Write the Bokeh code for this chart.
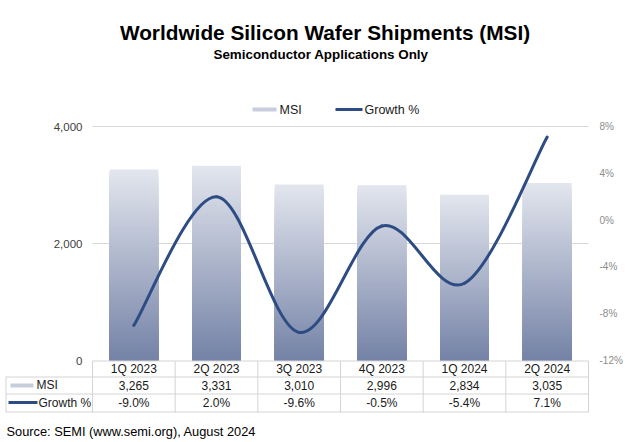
from bokeh.plotting import figure
from bokeh.models import (Range1d, LinearAxis, FixedTicker, NumeralTickFormatter,
                          PrintfTickFormatter, ColumnDataSource)
from bokeh.core.properties import value
from bokeh.embed import file_html
from bokeh.resources import INLINE

# ---------------- data ----------------
quarters = ["1Q 2023", "2Q 2023", "3Q 2023", "4Q 2023", "1Q 2024", "2Q 2024"]
msi = [3265, 3331, 3010, 2996, 2834, 3035]
growth = [-9.0, 2.0, -9.6, -0.5, -5.4, 7.1]
msi_ticks = [0, 2000, 4000]
growth_ticks = [-12, -8, -4, 0, 4, 8]
title_text = "Worldwide Silicon Wafer Shipments (MSI)"
subtitle_text = "Semiconductor Applications Only"
source_text = "Source: SEMI (www.semi.org), August 2024"
series_names = ["MSI", "Growth %"]

# ---------------- styling / geometry (page pixels) ----------------
FONT = "Liberation Sans"
LINE_COLOR = "#2E4C84"
BAR_TOP = (0xE3, 0xE6, 0xEE)
BAR_BOT = (0x74, 0x82, 0xA6)
BORDER = "#D4D4D4"
GRID = "#D9D9D9"
TXT = "#1A1A1A"

W, H = 640, 442
PAGE_L, PAGE_T = 0, 0
FRAME_L, FRAME_R = 92, 588
Y_MAX_PX, Y_ZERO_PX = 126, 360
n = len(quarters)
CAT_W = (FRAME_R - FRAME_L) / n


def xd(px):
    return (px - FRAME_L) / CAT_W


def yd(py):
    return (Y_ZERO_PX - py) * msi_ticks[-1] / (Y_ZERO_PX - Y_MAX_PX)


def gd(py):
    lo, hi = growth_ticks[0], growth_ticks[-1]
    return lo + (Y_ZERO_PX - py) * (hi - lo) / (Y_ZERO_PX - Y_MAX_PX)


def mix(f):
    c = [round(b + (t - b) * f) for t, b in zip(BAR_TOP, BAR_BOT)]
    return "#%02X%02X%02X" % tuple(c)


def txt(x, y, t, size, align="center", color=TXT, style="normal"):
    p.text(x=x, y=y, text=t, text_font=value(FONT), text_font_size=size,
           text_align=align, text_baseline="middle", text_color=color,
           text_font_style=style)


p = figure(width=W, height=H, title=None,
           x_range=Range1d(xd(PAGE_L), xd(PAGE_L + W)),
           y_range=Range1d(yd(PAGE_T + H), yd(PAGE_T)),
           x_axis_location=None, y_axis_location=None,
           output_backend="svg", toolbar_location=None, min_border=0)
p.outline_line_color = None
p.grid.visible = False

# left axis, pinned to the chart's left edge
yax = LinearAxis(ticker=FixedTicker(ticks=msi_ticks),
                 formatter=NumeralTickFormatter(format="0,0"), fixed_location=0)
yax.axis_line_color = None
yax.major_tick_line_color = None
yax.minor_tick_line_color = None
yax.major_tick_out = 0
yax.major_label_standoff = 10
yax.major_label_text_font = FONT
yax.major_label_text_font_size = "11.5px"
yax.major_label_text_color = "#404040"
p.add_layout(yax, "left")

# right axis, pinned to the chart's right edge
p.extra_y_ranges = {"g": Range1d(gd(PAGE_T + H), gd(PAGE_T))}
rax = LinearAxis(y_range_name="g", ticker=FixedTicker(ticks=growth_ticks),
                 formatter=PrintfTickFormatter(format="%d%%"), fixed_location=n)
rax.axis_line_color = None
rax.major_tick_line_color = None
rax.minor_tick_line_color = None
rax.major_tick_out = 0
rax.major_label_standoff = 11
rax.major_label_text_font = FONT
rax.major_label_text_font_size = "10px"
rax.major_label_text_color = "#8C8C8C"
p.add_layout(rax, "right")

# horizontal gridlines at the non-zero MSI ticks, across the chart width
gt = msi_ticks[1:]
p.segment(x0=[0] * len(gt), x1=[n] * len(gt), y0=gt, y1=gt, line_color=GRID, line_width=1)

# gradient bars: stacked slices, tallest (lightest) drawn first
N = 80
bx, btop, bcol = [], [], []
for k in range(N, 0, -1):
    for i, v in enumerate(msi):
        bx.append(i + 0.5)
        btop.append(v * k / N)
        bcol.append(mix((k - 0.5) / N))
p.vbar(x="x", top="top", bottom=0, width=0.59, fill_color="c", line_color=None,
       source=ColumnDataSource(dict(x=bx, top=btop, c=bcol)))

# smoothed growth line (Catmull-Rom -> cubic Bezier)
pts = [(i + 0.5, g) for i, g in enumerate(growth)]
seg = dict(x0=[], y0=[], x1=[], y1=[], cx0=[], cy0=[], cx1=[], cy1=[])
for i in range(n - 1):
    p0 = pts[max(i - 1, 0)]
    p1 = pts[i]
    p2 = pts[i + 1]
    p3 = pts[min(i + 2, n - 1)]
    seg["x0"].append(p1[0]); seg["y0"].append(p1[1])
    seg["x1"].append(p2[0]); seg["y1"].append(p2[1])
    seg["cx0"].append(p1[0] + (p2[0] - p0[0]) / 6)
    seg["cy0"].append(p1[1] + (p2[1] - p0[1]) / 6)
    seg["cx1"].append(p2[0] - (p3[0] - p1[0]) / 6)
    seg["cy1"].append(p2[1] - (p3[1] - p1[1]) / 6)
p.bezier(x0="x0", y0="y0", x1="x1", y1="y1", cx0="cx0", cy0="cy0",
         cx1="cx1", cy1="cy1", source=ColumnDataSource(seg),
         line_color=LINE_COLOR, line_width=3, line_cap="round",
         y_range_name="g")

# titles
txt([xd(324.5)], [yd(32)], [title_text], "20.8px", style="bold", color="#000000")
txt([xd(320.5)], [yd(54)], [subtitle_text], "13.4px", style="bold", color="#000000")

# legend
p.quad(left=[xd(252)], right=[xd(276)], bottom=[yd(111)], top=[yd(107)],
       fill_color=mix(0.75), line_color=None)
txt([xd(279)], [yd(109)], [series_names[0]], "12.5px", align="left")
p.segment(x0=[xd(335)], x1=[xd(362)], y0=[yd(109)], y1=[yd(109)],
          line_color=LINE_COLOR, line_width=3)
txt([xd(364)], [yd(109)], [series_names[1]], "12.5px", align="left")

# ---------------- data table ----------------
TL = 5.5  # left border of the table
p.segment(x0=[0], x1=[n], y0=[yd(360.5)], y1=[yd(360.5)], line_color=BORDER, line_width=1)
row_lines = [376.5, 393.5, 411.5]
p.segment(x0=[xd(TL)] * 3, x1=[n] * 3, y0=[yd(v) for v in row_lines],
          y1=[yd(v) for v in row_lines], line_color=BORDER, line_width=1)
cx = list(range(n + 1))
p.segment(x0=cx, x1=cx, y0=[yd(360.5)] * len(cx), y1=[yd(412)] * len(cx),
          line_color=BORDER, line_width=1)
p.segment(x0=[xd(TL)], x1=[xd(TL)], y0=[yd(376)], y1=[yd(412)],
          line_color=BORDER, line_width=1)

txt([i + 0.5 for i in range(n)], [yd(368.5)] * n, quarters, "12px")

# row labels with legend keys
p.quad(left=[xd(10)], right=[xd(33)], bottom=[yd(387)], top=[yd(383)],
       fill_color=mix(0.75), line_color=None)
txt([xd(36)], [yd(384.5)], [series_names[0]], "12px", align="left")
p.segment(x0=[xd(8)], x1=[xd(37)], y0=[yd(402)], y1=[yd(402)],
          line_color=LINE_COLOR, line_width=3)
txt([xd(38)], [yd(402)], [series_names[1]], "12px", align="left")

txt([i + 0.5 for i in range(n)], [yd(384.5)] * n, [f"{v:,}" for v in msi], "12px")
txt([i + 0.5 for i in range(n)], [yd(402)] * n, [f"{g:.1f}%" for g in growth], "12px")

txt([xd(6)], [yd(431)], [source_text], "12.8px", align="left", color="#000000")

open("out.html", "w").write(file_html(p, INLINE))
